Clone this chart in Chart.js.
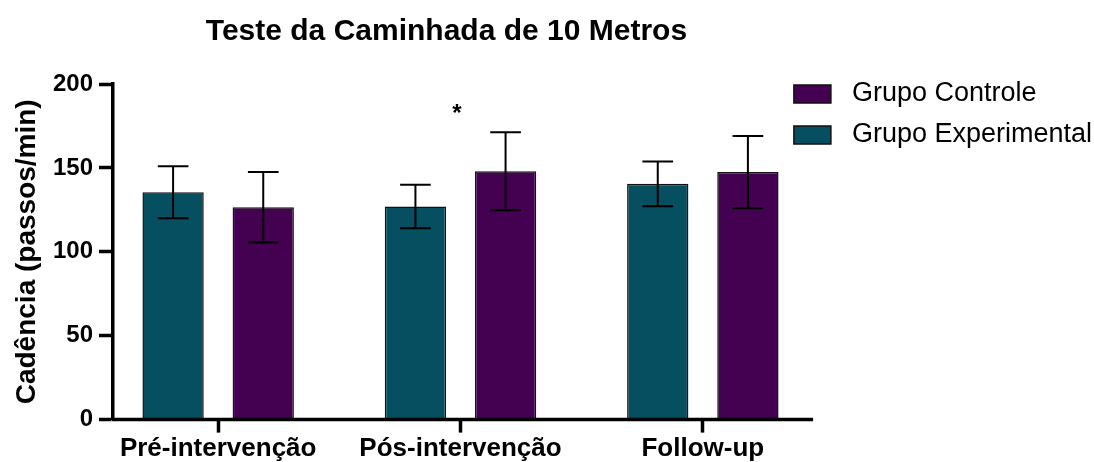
<!DOCTYPE html>
<html lang="pt">
<head>
<meta charset="utf-8">
<title>Teste da Caminhada de 10 Metros</title>
<script src="https://cdn.jsdelivr.net/npm/chart.js@4.4.1/dist/chart.umd.min.js"></script>
<style>
  html, body { margin: 0; padding: 0; background: #ffffff; }
  #wrap { width: 1094px; height: 462px; }
</style>
</head>
<body>
<div id="wrap"><canvas id="chart" width="1094" height="462"></canvas></div>
<script>
// Momentos de avaliação (posição 0, 1, 2 no eixo x)
const categories = ['Pré-intervenção', 'Pós-intervenção', 'Follow-up'];

// Cadência média (passos/min) e desvio padrão por grupo
const experimentalMean = [135.5, 127.0, 140.5];
const experimentalSD   = [15.5, 13.0, 13.3];
const controlMean      = [126.5, 148.0, 147.5];
const controlSD        = [21.0, 23.3, 21.5];

// Marcação de significância
const sigMarkX = [0.985];
const sigMarkY = [184];
const sigMarkText = ['*'];

// Eixos
const yTicks = [0, 50, 100, 150, 200];
const xAxisStart = -0.434;
const xAxisEnd = 2.455;

const FONT = "'Liberation Sans', Arial, sans-serif";
const TEAL = '#064F60';
const PURPLE = '#440152';

const toPoints = (vals) => vals.map((v, i) => ({ x: i, y: v }));

// Barras de erro (média ± DP) desenhadas sobre cada barra
const errorBars = {
  id: 'errorBars',
  afterDatasetsDraw(chart) {
    const { ctx } = chart;
    const y = chart.scales.y;
    chart.data.datasets.forEach((ds, di) => {
      const meta = chart.getDatasetMeta(di);
      meta.data.forEach((bar, i) => {
        const m = ds.data[i].y;
        const e = ds.errors[i];
        const top = y.getPixelForValue(m + e);
        const bot = y.getPixelForValue(m - e);
        const half = bar.width / 4;
        ctx.save();
        ctx.strokeStyle = '#000';
        ctx.lineWidth = 2;
        ctx.beginPath();
        ctx.moveTo(bar.x, top); ctx.lineTo(bar.x, bot);
        ctx.moveTo(bar.x - half, top); ctx.lineTo(bar.x + half, top);
        ctx.moveTo(bar.x - half, bot); ctx.lineTo(bar.x + half, bot);
        ctx.stroke();
        ctx.restore();
      });
    });
  }
};

// Linha do eixo x, asterisco de significância
const axisAndMarks = {
  id: 'axisAndMarks',
  afterDraw(chart) {
    const { ctx } = chart;
    const x = chart.scales.x, y = chart.scales.y;
    const y0 = y.getPixelForValue(0);
    ctx.save();
    ctx.strokeStyle = '#000';
    ctx.lineWidth = 3.5;
    ctx.beginPath();
    ctx.moveTo(x.getPixelForValue(xAxisStart) - 1.5, y0);
    ctx.lineTo(x.getPixelForValue(xAxisEnd), y0);
    ctx.stroke();
    ctx.fillStyle = '#000';
    ctx.font = 'bold 24px ' + FONT;
    ctx.textAlign = 'center';
    ctx.textBaseline = 'middle';
    sigMarkText.forEach((t, i) => {
      ctx.fillText(t, x.getPixelForValue(sigMarkX[i]), y.getPixelForValue(sigMarkY[i]) + 4);
    });
    ctx.restore();
  }
};

new Chart(document.getElementById('chart'), {
  type: 'bar',
  data: {
    datasets: [
      {
        label: 'Grupo Experimental',
        data: toPoints(experimentalMean),
        errors: experimentalSD,
        backgroundColor: TEAL,
        borderColor: '#111',
        borderWidth: 1.5,
        categoryPercentage: 0.744,
        barPercentage: 0.68
      },
      {
        label: 'Grupo Controle',
        data: toPoints(controlMean),
        errors: controlSD,
        backgroundColor: PURPLE,
        borderColor: '#111',
        borderWidth: 1.5,
        categoryPercentage: 0.744,
        barPercentage: 0.68
      }
    ]
  },
  options: {
    responsive: false,
    animation: false,
    layout: { padding: { left: 0, right: -8, top: 0, bottom: -4 } },
    plugins: {
      tooltip: { enabled: false },
      title: {
        display: true,
        text: 'Teste da Caminhada de 10 Metros',
        fullSize: false,
        color: '#000',
        font: { family: FONT, size: 30, weight: 'bold', lineHeight: 1.2 },
        padding: { top: 14, bottom: 34 }
      },
      legend: {
        position: 'right',
        align: 'start',
        reverse: true,
        maxWidth: 360,
        title: { display: true, text: '', font: { size: 12, lineHeight: 1.2 }, padding: { top: 52, bottom: 0 } },
        labels: {
          color: '#000',
          font: { family: FONT, size: 27 },
          boxWidth: 37,
          boxHeight: 18,
          padding: 14,
          generateLabels(chart) {
            const items = Chart.defaults.plugins.legend.labels.generateLabels(chart);
            items.forEach(it => { it.text = ' ' + it.text; it.lineWidth = 1.5; it.strokeStyle = '#111'; });
            return items;
          }
        }
      }
    },
    scales: {
      x: {
        type: 'linear',
        offset: false,
        min: xAxisStart,
        max: 2.318,
        afterBuildTicks(scale) {
          scale.ticks = categories.map((_, i) => ({ value: i }));
        },
        ticks: {
          color: '#000',
          padding: 7,
          font: { family: FONT, size: 26, weight: 'bold', lineHeight: 0.746 },
          callback: (v) => categories[v] ?? ''
        },
        grid: { display: true, offset: false, drawOnChartArea: false, drawTicks: true, tickLength: 13, tickWidth: 3.5, tickColor: '#000' },
        border: { display: false }
      },
      y: {
        min: 0,
        max: 200,
        afterBuildTicks(scale) {
          scale.ticks = yTicks.map(v => ({ value: v }));
        },
        afterFit(scale) { scale.width = 113; },
        ticks: {
          color: '#000',
          padding: 6,
          font: { family: FONT, size: 24, weight: 'bold' }
        },
        grid: { display: true, drawOnChartArea: false, drawTicks: true, tickLength: 14, tickWidth: 3.5, tickColor: '#000' },
        border: { display: true, color: '#000', width: 3.5 },
        title: {
          display: true,
          text: 'Cadência (passos/min)',
          color: '#000',
          font: { family: FONT, size: 28, weight: 'bold' },
          padding: { top: 10, bottom: 0 }
        }
      }
    }
  },
  plugins: [errorBars, axisAndMarks]
});
</script>
</body>
</html>
